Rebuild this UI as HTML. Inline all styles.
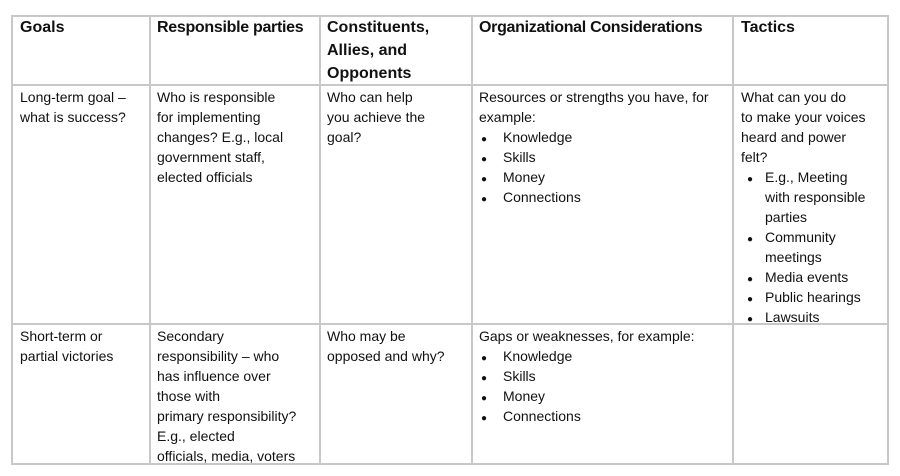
<!DOCTYPE html>
<html><head><style>
body{margin:0;width:900px;height:476px;background:#fff;position:relative;font-family:"Liberation Sans",sans-serif;color:#111;overflow:hidden}
.l{position:absolute;background:#c8c8c8}
.t{position:absolute;white-space:nowrap;font-size:14px;line-height:20px}
.b{position:absolute;white-space:nowrap;font-size:10px;line-height:20px}
.h{position:absolute;white-space:nowrap;font-size:16px;font-weight:bold;line-height:23px}
</style></head><body>
<div class="l" style="left:11px;top:15px;width:878px;height:2px"></div>
<div class="l" style="left:11px;top:84px;width:878px;height:2px"></div>
<div class="l" style="left:11px;top:323px;width:878px;height:2px"></div>
<div class="l" style="left:11px;top:463px;width:878px;height:2px"></div>
<div class="l" style="left:11px;top:15px;width:2px;height:450px"></div>
<div class="l" style="left:149px;top:15px;width:2px;height:450px"></div>
<div class="l" style="left:319px;top:15px;width:2px;height:450px"></div>
<div class="l" style="left:471px;top:15px;width:2px;height:450px"></div>
<div class="l" style="left:732px;top:15px;width:2px;height:450px"></div>
<div class="l" style="left:887px;top:15px;width:2px;height:450px"></div>

<div class="h" style="left:20px;top:16px">Goals</div>
<div class="h" style="left:157px;top:16px;letter-spacing:-0.3px">Responsible parties</div>
<div class="h" style="left:327px;top:16px">Constituents,<br>Allies, and<br>Opponents</div>
<div class="h" style="left:479px;top:16px;letter-spacing:-0.3px">Organizational Considerations</div>
<div class="h" style="left:741px;top:16px">Tactics</div>

<div class="t" style="left:20px;top:87px">Long-term goal –<br>what is success?</div>
<div class="t" style="left:157px;top:87px">Who is responsible<br>for implementing<br>changes? E.g., local<br>government staff,<br>elected officials</div>
<div class="t" style="left:327px;top:87px">Who can help<br>you achieve the<br>goal?</div>
<div class="t" style="left:479px;top:87px">Resources or strengths you have, for<br>example:</div>
<div class="b" style="left:481px;top:130px">●<br>●<br>●<br>●</div>
<div class="t" style="left:503px;top:127px">Knowledge<br>Skills<br>Money<br>Connections</div>
<div class="t" style="left:741px;top:87px">What can you do<br>to make your voices<br>heard and power<br>felt?</div>
<div class="b" style="left:747px;top:170px">●<br><br><br>●<br><br>●<br>●<br>●</div>
<div class="t" style="left:765px;top:167px">E.g., Meeting<br>with responsible<br>parties<br>Community<br>meetings<br>Media events<br>Public hearings<br>Lawsuits</div>

<div class="t" style="left:20px;top:326px">Short-term or<br>partial victories</div>
<div class="t" style="left:157px;top:326px">Secondary<br>responsibility – who<br>has influence over<br>those with<br>primary responsibility?<br>E.g., elected<br>officials, media, voters</div>
<div class="t" style="left:327px;top:326px">Who may be<br>opposed and why?</div>
<div class="t" style="left:479px;top:326px">Gaps or weaknesses, for example:</div>
<div class="b" style="left:481px;top:349px">●<br>●<br>●<br>●</div>
<div class="t" style="left:503px;top:346px">Knowledge<br>Skills<br>Money<br>Connections</div>
</body></html>
